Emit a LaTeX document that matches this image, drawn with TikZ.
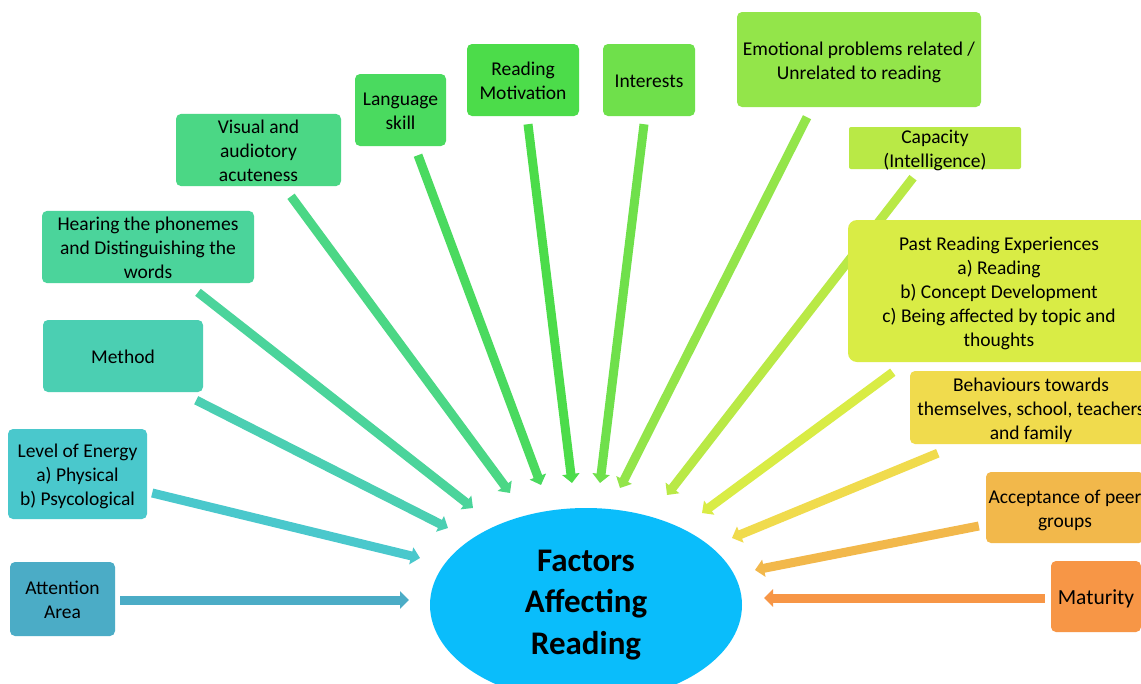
\documentclass[tikz,border=0pt]{standalone}
\usepackage{fontspec}
\setmainfont{Carlito}
\usetikzlibrary{arrows.meta,calc,backgrounds,shapes.geometric}
\definecolor{cA}{HTML}{4BACC6}
\definecolor{cB}{HTML}{4AC8CC}
\definecolor{cC}{HTML}{4BCFB2}
\definecolor{cD}{HTML}{4BD49B}
\definecolor{cE}{HTML}{4BD785}
\definecolor{cF}{HTML}{4ADA5F}
\definecolor{cG}{HTML}{4CDC4A}
\definecolor{cH}{HTML}{6FE04B}
\definecolor{cI}{HTML}{93E54A}
\definecolor{cJ}{HTML}{B9E946}
\definecolor{cK}{HTML}{D9EC45}
\definecolor{cL}{HTML}{F0DB4D}
\definecolor{cM}{HTML}{F2B84B}
\definecolor{cN}{HTML}{F79646}
\definecolor{cO}{HTML}{0ABDFB}
\newcommand{\topst}{\rule{0pt}{19.7pt}}
\newcommand{\botst}{\rule[-4.5pt]{0pt}{4.5pt}}
\tikzset{
  box/.style={rectangle, rounded corners=5pt, inner sep=0pt, align=center,
    font=\fontsize{19.5}{24}\selectfont, text=black},
  arr/.style={line width=9pt, -{Triangle[width=17pt,length=9pt]}},
}
\begin{document}
\begin{tikzpicture}[x=1pt,y=-1pt]
\useasboundingbox (0,0) rectangle (1141,683);
% central ellipse
\node[ellipse, fill=cO, minimum width=312pt, minimum height=194pt, inner sep=0pt,
  align=center, font=\fontsize{33}{41.5}\selectfont\bfseries] (fac) at (586,605)
  {Factors\\Affecting\\Reading};
% boxes
\node[box, fill=cA, minimum width=105pt, minimum height=74pt] (att) at (62.5,599) {\topst Attention\\Area\botst};
\node[box, fill=cB, minimum width=139pt, minimum height=90pt] (lev) at (77.5,474) {\topst Level of Energy\\a) Physical\\b) Psycological\botst};
\node[box, fill=cC, minimum width=160pt, minimum height=72pt] (met) at (123,356) {\topst Method\botst};
\node[box, fill=cD, minimum width=212pt, minimum height=72pt] (hea) at (148,247) {\topst Hearing the phonemes\\and Distinguishing the\\words\botst};
\node[box, fill=cE, minimum width=165pt, minimum height=72pt] (vis) at (258.5,150) {\topst Visual and\\audiotory\\acuteness\botst};
\node[box, fill=cF, minimum width=91pt, minimum height=72pt] (lan) at (400.5,110) {\topst Language\\skill\botst};
\node[box, fill=cG, minimum width=112pt, minimum height=72pt] (mot) at (523,80) {\topst Reading\\Motivation\botst};
\node[box, fill=cH, minimum width=92pt, minimum height=72pt] (int) at (649,80) {\topst Interests\botst};
\node[box, fill=cI, minimum width=244pt, minimum height=95pt] (emo) at (859,59.5) {\topst Emotional problems related /\\Unrelated to reading\botst};
\node[box, fill=cJ, rounded corners=2pt, inner ysep=-3.5pt, minimum width=172pt, minimum height=42pt] (cap) at (935,148) {\topst Capacity\\(Intelligence)\botst};
\node[box, fill=cK, rounded corners=9pt, minimum width=302pt, minimum height=142pt] (pas) at (999,291) {\topst Past Reading Experiences\\a) Reading\\b) Concept Development\\c) Being affected by topic and\\thoughts\botst};
\node[box, fill=cL, minimum width=242pt, minimum height=73pt] (beh) at (1031,407.5) {\topst Behaviours towards\\themselves, school, teachers\\and family\botst};
\node[box, fill=cM, minimum width=158pt, minimum height=71pt] (acc) at (1065,507.5) {\topst Acceptance of peer\\groups\botst};
\node[box, fill=cN, minimum width=90pt, minimum height=71pt, font=\fontsize{21.5}{26}\selectfont] (mat) at (1096,596.5) {\topst Maturity\botst};
% arrow tips
\coordinate (t1) at (409,600);
\coordinate (t2) at (420,558);
\coordinate (t3) at (448,528);
\coordinate (t4) at (473,508);
\coordinate (t5) at (510,493);
\coordinate (t6) at (541,485);
\coordinate (t7) at (572,483);
\coordinate (t8) at (600,483);
\coordinate (t9) at (620,488);
\coordinate (t10) at (667,495);
\coordinate (t11) at (702,513);
\coordinate (t12) at (732,538);
\coordinate (t13) at (755,570);
\coordinate (t14) at (764,598);
\begin{pgfonlayer}{background}
\fill[white] (0,0) rectangle (1141,683);
\draw[arr, cA] ($(att.east)+(5,1)$) -- (t1);
\draw[arr, cB] ($(lev.east)+(5,19)$) -- (t2);
\draw[arr, cC] ($(met.south east)+(-7,8)$) -- (t3);
\draw[arr, cD] ($(hea.south)+(50,9)$) -- (t4);
\draw[arr, cE] ($(vis.south)+(32.5,10)$) -- (t5);
\draw[arr, cF] ($(lan.south)+(17.5,9)$) -- (t6);
\draw[arr, cG] ($(mot.south)+(5,8)$) -- (t7);
\draw[arr, cH] ($(int.south)+(-5,8)$) -- (t8);
\draw[arr, cI] ($(emo.south)+(-52,10)$) -- (t9);
\draw[arr, cJ] ($(cap.south)+(-22,8.5)$) -- (t10);
\draw[arr, cK] ($(pas.south west)+(45,10)$) -- (t11);
\draw[arr, cL] ($(beh.south west)+(28,9)$) -- (t12);
\draw[arr, cM] ($(acc.west)+(-7,18.5)$) -- (t13);
\draw[arr, cN] ($(mat.west)+(-6,1.5)$) -- (t14);
\end{pgfonlayer}
\end{tikzpicture}
\end{document}
